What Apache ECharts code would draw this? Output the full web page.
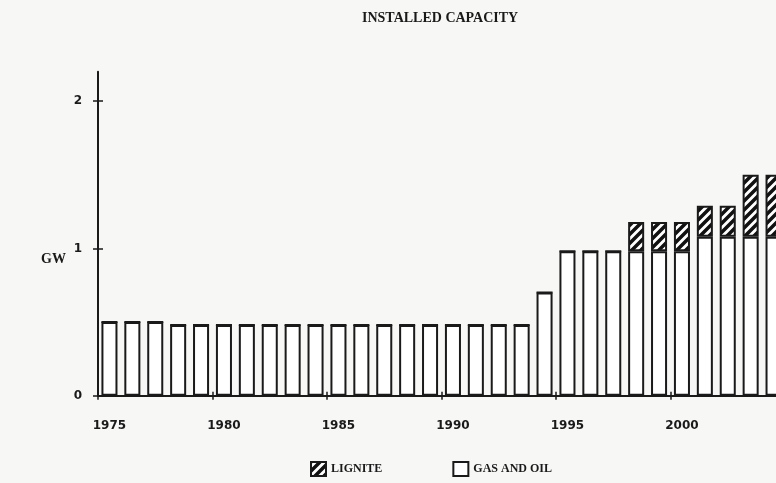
<!DOCTYPE html>
<html>
<head>
<meta charset="utf-8">
<script src="https://cdn.jsdelivr.net/npm/echarts@6/dist/echarts.min.js"></script>
<style>
html,body{margin:0;padding:0;background:#f7f7f6;}
#c{width:776px;height:483px;}
</style>
</head>
<body>
<div id="c"></div>
<script>
var years = ['1975','1976','1977','1978','1979','1980','1981','1982','1983','1984','1985','1986','1987','1988','1989','1990','1991','1992','1993','1994','1995','1996','1997','1998','1999','2000','2001','2002','2003','2004'];
var gasAndOil = [0.50,0.50,0.50,0.48,0.48,0.48,0.48,0.48,0.48,0.48,0.48,0.48,0.48,0.48,0.48,0.48,0.48,0.48,0.48,0.70,0.98,0.98,0.98,0.98,0.98,0.98,1.08,1.08,1.08,1.08];
var lignite   = [0,0,0,0,0,0,0,0,0,0,0,0,0,0,0,0,0,0,0,0,0,0,0,0.20,0.20,0.20,0.21,0.21,0.42,0.42];
var yTicks = [0, 1, 2];

function hatch() {
  var s = 9, c = document.createElement('canvas');
  c.width = s; c.height = s;
  var ctx = c.getContext('2d');
  ctx.fillStyle = '#ffffff';
  ctx.fillRect(0, 0, s, s);
  ctx.strokeStyle = '#111111';
  ctx.lineWidth = 3.5;
  ctx.beginPath();
  ctx.moveTo(0, s); ctx.lineTo(s, 0);
  ctx.moveTo(-3, 3); ctx.lineTo(3, -3);
  ctx.moveTo(s - 3, s + 3); ctx.lineTo(s + 3, s - 3);
  ctx.stroke();
  return c;
}

var chart = echarts.init(document.getElementById('c'), null, {renderer: 'canvas'});
var numFont = {fontFamily: 'DejaVu Sans', fontWeight: 'bold', fontSize: 12, color: '#1a1a1a'};
var serif = 'Liberation Serif';

chart.setOption({
  backgroundColor: '#f7f7f6',
  animation: false,
  title: [
    {text: 'INSTALLED CAPACITY', left: 357, top: 6,
     textStyle: {fontFamily: serif, fontWeight: 'bold', fontSize: 14, color: '#1a1a1a'}},
    {text: 'GW', left: 36, top: 247,
     textStyle: {fontFamily: serif, fontWeight: 'bold', fontSize: 14, color: '#1a1a1a'}}
  ],
  legend: {
    data: ['LIGNITE', 'GAS AND OIL'],
    left: 305, top: 456,
    itemWidth: 15, itemHeight: 14, itemGap: 70,
    icon: 'rect',
    textStyle: {fontFamily: serif, fontWeight: 'bold', fontSize: 12, color: '#1a1a1a'}
  },
  grid: {left: 98, width: 687, top: 71.7, bottom: 87.3, outerBoundsMode: 'none', containLabel: false},
  xAxis: [{
    type: 'category', data: years, position: 'bottom',
    axisLine: {lineStyle: {color: '#1a1a1a', width: 2}},
    axisTick: {show: true, interval: 4, length: 4, lineStyle: {color: '#1a1a1a', width: 1.5}},
    axisLabel: Object.assign({interval: 4, margin: 24}, numFont),
    splitLine: {show: false}
  }, {
    type: 'category', data: years, position: 'bottom',
    axisLine: {show: false},
    axisTick: {show: true, inside: true, interval: 4, length: 4, lineStyle: {color: '#1a1a1a', width: 1.5}},
    axisLabel: {show: false},
    splitLine: {show: false}
  }],
  yAxis: [{
    type: 'value', min: 0, max: 2.2,
    axisLine: {show: true, lineStyle: {color: '#1a1a1a', width: 2}},
    axisTick: {show: true, length: 5, customValues: yTicks, lineStyle: {color: '#1a1a1a', width: 1.5}},
    axisLabel: Object.assign({customValues: yTicks, margin: 16}, numFont),
    splitLine: {show: false}
  }, {
    type: 'value', min: 0, max: 2.2, position: 'left',
    axisLine: {show: false},
    axisTick: {show: true, inside: true, length: 5, customValues: yTicks, lineStyle: {color: '#1a1a1a', width: 1.5}},
    axisLabel: {show: false},
    splitLine: {show: false}
  }],
  series: [{
    name: 'GAS AND OIL', type: 'bar', stack: 'cap', data: gasAndOil,
    barWidth: '70%',
    itemStyle: {color: '#ffffff', borderColor: '#1a1a1a', borderWidth: 2}
  }, {
    name: 'LIGNITE', type: 'bar', stack: 'cap', data: lignite,
    barWidth: '70%',
    itemStyle: {color: {image: hatch(), repeat: 'repeat'}, borderColor: '#1a1a1a', borderWidth: 2}
  }]
});
</script>
</body>
</html>
